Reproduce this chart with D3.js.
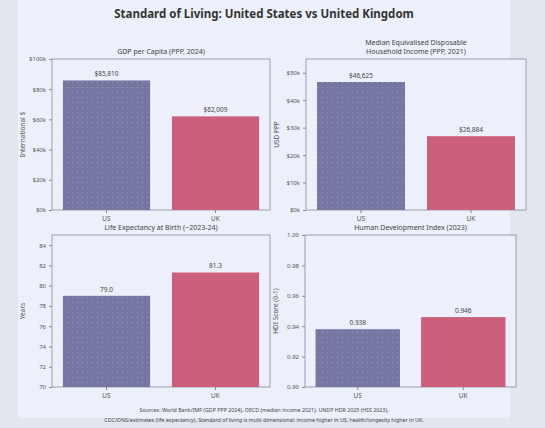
<!DOCTYPE html>
<html><head><meta charset="utf-8">
<script src="https://cdn.jsdelivr.net/npm/d3@7"></script>
<style>body{margin:0;background:#e3e6ef;font-family:"Noto Sans",sans-serif}</style>
</head><body><svg id="c" width="545" height="428"></svg>
<script>
const countries = ["US", "UK"];
const gdp = [85810, 62009];
const income = [46625, 26884];
const lifeExp = [79.0, 81.3];
const hdi = [0.938, 0.946];
const colors = ["#7676a2", "#cc5f7b"];

const svg = d3.select("#c");
svg.append("rect").attr("x", 18).attr("y", 0).attr("width", 492).attr("height", 418).attr("fill", "#ecf0fb");

const defs = svg.append("defs");
const pat = defs.append("pattern").attr("id", "dots").attr("width", 5).attr("height", 5).attr("patternUnits", "userSpaceOnUse");
pat.append("rect").attr("width", 5).attr("height", 5).attr("fill", colors[0]);
pat.append("circle").attr("cx", 2.5).attr("cy", 2.5).attr("r", 0.5).attr("fill", "#a3a3c4");

svg.append("text").attr("x", 264).attr("y", 18).attr("text-anchor", "middle")
  .attr("font-size", 11.5).attr("font-weight", "bold").attr("fill", "#333").text("Standard of Living: United States vs United Kingdom");

function panel(box, title, values, domain, ticks, fmt, labelFmt, ylabel) {
  const g = svg.append("g");
  const x = d3.scaleBand().domain(countries).range([box.x0, box.x1]).paddingInner(0.2).paddingOuter(0.1);
  const y = d3.scaleLinear().domain(domain).range([box.y1, box.y0]);
  g.append("rect").attr("x", box.x0).attr("y", box.y0).attr("width", box.x1 - box.x0).attr("height", box.y1 - box.y0)
    .attr("fill", "#edf0fb").attr("stroke", "#8a8d99").attr("stroke-width", 0.8);
  g.selectAll(".bar").data(values).join("rect")
    .attr("x", (d, i) => x(countries[i])).attr("width", x.bandwidth())
    .attr("y", d => y(d)).attr("height", d => box.y1 - y(d))
    .attr("fill", (d, i) => i === 0 ? "url(#dots)" : colors[1]);
  g.selectAll(".lab").data(values).join("text")
    .attr("x", (d, i) => x(countries[i]) + x.bandwidth() / 2).attr("y", d => y(d) - 4)
    .attr("text-anchor", "middle").attr("font-size", 6.5).attr("fill", "#444").text(labelFmt);
  const ya = g.append("g").attr("transform", `translate(${box.x0},0)`)
    .call(d3.axisLeft(y).tickValues(ticks).tickFormat(fmt).tickSize(3));
  const xa = g.append("g").attr("transform", `translate(0,${box.y1})`).call(d3.axisBottom(x).tickSize(3));
  [ya, xa].forEach(a => {
    a.select(".domain").remove();
    a.selectAll("line").attr("stroke", "#888");
    a.selectAll("text").attr("font-size", 6).attr("fill", "#555").attr("font-family", "Noto Sans");
  });
  xa.selectAll("text").attr("font-size", 6.5);
  title.forEach((t, i) => g.append("text").attr("x", (box.x0 + box.x1) / 2).attr("y", box.y0 - 5 - (title.length - 1 - i) * 9)
    .attr("text-anchor", "middle").attr("font-size", 7).attr("fill", "#444").text(t));
  g.append("text").attr("transform", `translate(${box.x0 - 27},${(box.y0 + box.y1) / 2}) rotate(-90)`)
    .attr("text-anchor", "middle").attr("font-size", 6.5).attr("fill", "#555").text(ylabel);
}

const money = d => "$" + d3.format(",")(d);
panel({x0: 52, x1: 270, y0: 59, y1: 210}, ["GDP per Capita (PPP, 2024)"], gdp, [0, 100000],
  d3.range(0, 100001, 20000), d => "$" + d / 1000 + "k", money, "International $");
panel({x0: 306, x1: 526, y0: 59, y1: 210}, ["Median Equivalised Disposable", "Household Income (PPP, 2021)"], income, [0, 55000],
  d3.range(0, 50001, 10000), d => "$" + d / 1000 + "k", money, "USD PPP");
panel({x0: 52, x1: 270, y0: 235, y1: 387}, ["Life Expectancy at Birth (~2023-24)"], lifeExp, [70, 85],
  d3.range(70, 85, 2), d3.format("d"), d3.format(".1f"), "Years");
panel({x0: 305, x1: 516, y0: 235, y1: 387}, ["Human Development Index (2023)"], hdi, [0.9, 1.0],
  [0.9, 0.92, 0.94, 0.96, 0.98, 1.0], d3.format(".2f"), d3.format(".3f"), "HDI Score (0-1)");

const notes = ["Sources: World Bank/IMF (GDP PPP 2024), OECD (median income 2021), UNDP HDR 2025 (HDI 2023),",
  "CDC/ONS/estimates (life expectancy). Standard of living is multi-dimensional; income higher in US, health/longevity higher in UK."];
notes.forEach((t, i) => svg.append("text").attr("x", 264).attr("y", 412 + i * 10).attr("text-anchor", "middle")
  .attr("font-size", 5.3).attr("fill", "#444").text(t));
</script></body></html>
